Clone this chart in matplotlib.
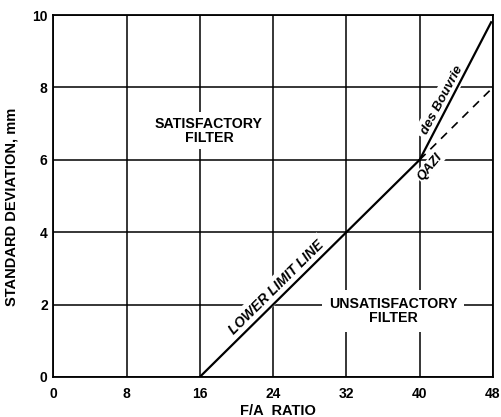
import numpy as np
import matplotlib
matplotlib.use('Agg')
import matplotlib.pyplot as plt

plt.rcParams['font.family'] = ['Liberation Sans', 'DejaVu Sans']
plt.rcParams['font.weight'] = 'bold'

# chart data
x_ticks = [0, 8, 16, 24, 32, 40, 48]
y_ticks = [0, 2, 4, 6, 8, 10]

lower_fa = [16, 40]
lower_sd = [0, 6]
bouvrie_fa = [40, 47.8]
bouvrie_sd = [6, 9.8]
qazi_fa = [40, 48]
qazi_sd = [6, 8]

fig = plt.figure(figsize=(5.02, 4.17), dpi=100)
ax = fig.add_axes([0.106, 0.096, 0.876, 0.868])

ax.set_xlim(0, 48)
ax.set_ylim(0, 10)
ax.set_xticks(x_ticks)
ax.set_yticks(y_ticks)
ax.set_xticklabels([str(v) for v in x_ticks], fontsize=10, fontweight='bold')
ax.set_yticklabels([str(v) for v in y_ticks], fontsize=10, fontweight='bold')
ax.tick_params(axis='x', length=0, pad=7)
ax.tick_params(axis='y', length=0, pad=4)
ax.grid(True, color='black', linewidth=1.1)
for sp in ax.spines.values():
    sp.set_linewidth(1.3)

ax.plot(lower_fa, lower_sd, color='black', linewidth=1.6, zorder=4)
ax.plot(bouvrie_fa, bouvrie_sd, color='black', linewidth=1.6, zorder=4)
ax.plot(qazi_fa, qazi_sd, color='black', linewidth=1.2, linestyle=(0, (5, 4)), zorder=4)

box = dict(facecolor='white', edgecolor='none', pad=3)
ax.text(17.0, 6.8, 'SATISFACTORY\nFILTER', ha='center', va='center', fontsize=10.2,
        fontweight='bold', linespacing=1.05, bbox=box)
ax.text(37.1, 1.82, 'UNSATISFACTORY\nFILTER', ha='center', va='center', fontsize=10.2,
        fontweight='bold', linespacing=1.05, bbox=dict(facecolor='white', edgecolor='none', pad=5))

ang_lower = np.degrees(np.arctan(0.25))
ang_bouv = np.degrees(np.arctan(0.475))
ax.text(24.33, 2.46, 'LOWER LIMIT LINE', ha='center', va='center', fontsize=10,
        fontstyle='italic', fontweight='bold', rotation=ang_lower,
        transform_rotates_text=True, rotation_mode='anchor', bbox=box)
ax.text(42.45, 7.65, 'des Bouvrie', ha='center', va='center', fontsize=9.5,
        fontstyle='italic', fontweight='bold', rotation=ang_bouv,
        transform_rotates_text=True, rotation_mode='anchor', bbox=box)
ax.text(41.1, 5.8, 'QAZI', ha='center', va='center', fontsize=9.5,
        fontstyle='italic', fontweight='bold', rotation=50,
        rotation_mode='anchor', bbox=dict(facecolor='white', edgecolor='none', pad=0.8))

ax.set_xlabel('F/A  RATIO', fontsize=10.5, fontweight='bold')
ax.xaxis.set_label_coords(0.511, -0.075)
ax.set_ylabel('STANDARD DEVIATION, mm', fontsize=10.5, fontweight='bold')
ax.yaxis.set_label_coords(-0.08, 0.47)

fig.savefig('out.png', dpi=100)
